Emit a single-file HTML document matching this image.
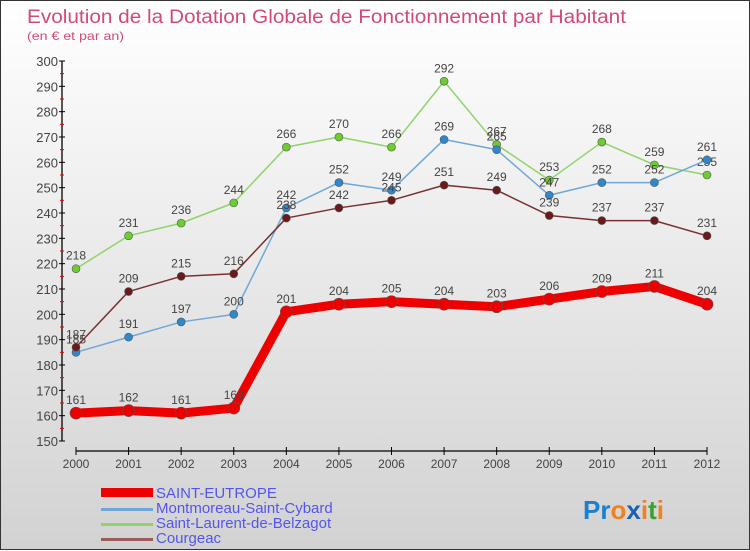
<!DOCTYPE html>
<html><head><meta charset="utf-8">
<style>
html,body{margin:0;padding:0}
body{width:750px;height:550px;overflow:hidden;font-family:"Liberation Sans",sans-serif}
#wrap{position:relative;width:748px;height:548px;border:1px solid #333;background:linear-gradient(#ffffff,#d2d2d2)}
svg{position:absolute;left:0;top:0}
</style></head>
<body>
<div id="wrap">
<svg id="chart" width="750" height="550">
<text x="26" y="22" font-size="19" fill="#d24a7a" textLength="599" lengthAdjust="spacingAndGlyphs">Evolution de la Dotation Globale de Fonctionnement par Habitant</text>
<text x="26" y="39" font-size="12" fill="#d24a7a" textLength="97" lengthAdjust="spacingAndGlyphs">(en € et par an)</text>
<g id="axes"></g>
<g id="series"></g>
<g id="legend">
<rect x="100" y="487" width="52" height="9" fill="#e00"/>
<text x="155" y="497" font-size="15" fill="#5555ee">SAINT-EUTROPE</text>
<rect x="100" y="507" width="52" height="3" fill="#6fa8d8"/>
<text x="155" y="512" font-size="15" fill="#5555ee">Montmoreau-Saint-Cybard</text>
<rect x="100" y="522" width="52" height="3" fill="#8fd46a"/>
<text x="155" y="527" font-size="15" fill="#5555ee">Saint-Laurent-de-Belzagot</text>
<rect x="100" y="537" width="52" height="3" fill="#9b5b5b"/>
<text x="155" y="542" font-size="15" fill="#5555ee">Courgeac</text>
</g>
<text x="582" y="518" font-size="26" font-weight="bold"><tspan fill="#1a7fd0">Pr</tspan><tspan fill="#f08020">o</tspan><tspan fill="#1a5fb0">x</tspan><tspan fill="#f08020">i</tspan><tspan fill="#3aa030">t</tspan><tspan fill="#f08020">i</tspan></text>
</svg>
</div>
<script>
const years = [2000,2001,2002,2003,2004,2005,2006,2007,2008,2009,2010,2011,2012];
const yTicks = [150,160,170,180,190,200,210,220,230,240,250,260,270,280,290,300];
const saintEutrope = [161,162,161,163,201,204,205,204,203,206,209,211,204];
const montmoreau = [185,191,197,200,242,252,249,269,265,247,252,252,261];
const saintLaurent = [218,231,236,244,266,270,266,292,267,253,268,259,255];
const courgeac = [187,209,215,216,238,242,245,251,249,239,237,237,231];

const NS = "http://www.w3.org/2000/svg";
const xS = i => 75 + i * (706 - 75) / 12;
const yS = v => 440 - (v - 150) * (380 / 150);
function mk(tag, attrs, parent) {
  const e = document.createElementNS(NS, tag);
  for (const k in attrs) e.setAttribute(k, attrs[k]);
  parent.appendChild(e);
  return e;
}
const axes = document.getElementById('axes');
const yAxis = mk('line', {x1:61,y1:60,x2:61,y2:440,stroke:'#000','stroke-width':1.3}, axes);


yTicks.forEach(v => {
  const y = yS(v);
  mk('line', {x1:58,y1:y,x2:64,y2:y,stroke:'#000'}, axes);
  if (v < 300) mk('line', {x1:59,y1:yS(v+5),x2:63,y2:yS(v+5),stroke:'#e00'}, axes);
  const t = mk('text', {x:57,y:y+5,'font-size':13,fill:'#444','text-anchor':'end'}, axes);
  t.textContent = v;
  
  
});
const xAxis = mk('line', {x1:75,y1:450,x2:706,y2:450,stroke:'#000','stroke-width':1.3}, axes);


years.forEach((yr, i) => {
  const x = xS(i);
  mk('line', {x1:x,y1:446,x2:x,y2:454,stroke:'#000'}, axes);
  const t = mk('text', {x:x,y:467,'font-size':12,fill:'#444','text-anchor':'middle'}, axes);
  t.textContent = yr;
  
  
});

const seriesG = document.getElementById('series');
function drawSeries(vals, color, dot, width, r, name) {
  const g = mk('g', {}, seriesG);
  
  
  const pts = vals.map((v, i) => xS(i) + ',' + yS(v)).join(' ');
  mk('polyline', {points:pts,fill:'none',stroke:color,'stroke-width':width,'stroke-linejoin':'round'}, g);
  vals.forEach((v, i) => {
    const c = mk('circle', {cx:xS(i),cy:yS(v),r:r,fill:dot,stroke:'#555','stroke-width':0.6}, g);
    
    
    const t = mk('text', {x:xS(i),y:yS(v)-9,'font-size':12,fill:'#444','text-anchor':'middle'}, g);
    t.textContent = v;
    
    
  });
}
drawSeries(saintLaurent, '#8fd46a', '#6ccc30', 1.5, 4, 'series-saint-laurent');
drawSeries(montmoreau, '#6fa8d8', '#2e88cc', 1.5, 4, 'series-montmoreau');
drawSeries(courgeac, '#7a3030', '#6a1a1a', 1.5, 4, 'series-courgeac');
drawSeries(saintEutrope, '#ee0000', '#ee0000', 9, 6, 'series-saint-eutrope');
</script>
</body></html>
